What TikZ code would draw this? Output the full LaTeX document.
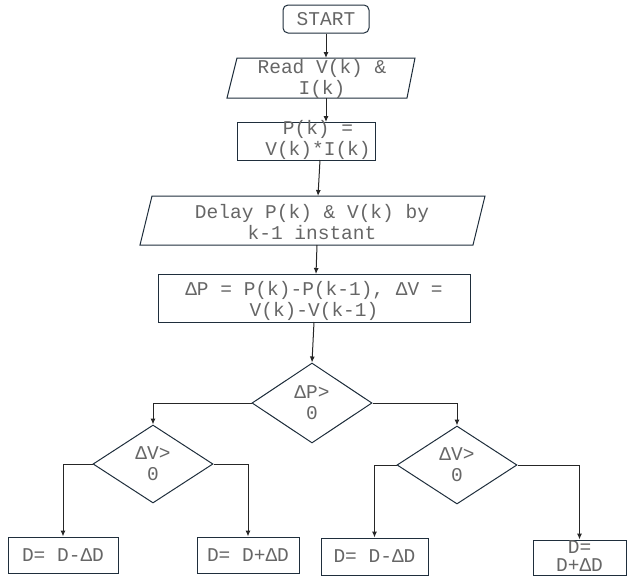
\documentclass[tikz,border=0pt]{standalone}
\usepackage{fontspec}
\setmonofont{Liberation Mono}
\usetikzlibrary{shapes.geometric,arrows.meta}
\definecolor{edgecol}{HTML}{1F2E3C}
\definecolor{txtcol}{HTML}{666666}
\begin{document}
\begin{tikzpicture}[x=1pt,y=-1pt,
  lbl/.style={text=txtcol, font=\ttfamily\fontsize{19.5}{21}\selectfont, align=center, inner sep=0pt},
  shp/.style={lbl, draw=edgecol, line width=1pt},
  boxnode/.style={shp, rectangle},
  decide/.style={shp, diamond, minimum width=120pt, minimum height=80pt},
  para/.style={draw=edgecol, line width=1pt},
  arr/.style={draw=black!85, line width=1pt, -{Latex[length=6pt,width=5pt]}}
]
\useasboundingbox (0,0) rectangle (627,576);

% START
\node[boxnode, rounded corners=5pt, minimum width=86pt, minimum height=28pt] (start) at (326,19) {START};

% Read parallelogram
\draw[para] (237,58) -- (415,58) -- (407,98) -- (227,98) -- cycle;
\node[lbl] (read) at (322,79) {Read V(k) \&\\I(k)};
\coordinate (readT) at (326,58);
\coordinate (readB) at (326,98);

% P box
\node[boxnode, minimum width=138pt, minimum height=38pt] (pbox) at (306,141) {};
\node[lbl] (ptxt) at (318,140) {P(k) =\\V(k)*I(k)};
\coordinate (pT) at (326,122);
\coordinate (pB) at (320,160);

% Delay parallelogram
\draw[para] (152,196) -- (485,196) -- (473,245) -- (140,245) -- cycle;
\node[lbl] (delay) at (312,222) {Delay P(k) \& V(k) by\\k-1 instant};
\coordinate (delT) at (318,196);
\coordinate (delB) at (317,245);

% Delta box
\node[boxnode, minimum width=312pt, minimum height=48pt] (dbox) at (314,298) {};
\node[lbl] (dtxt) at (314,301) {ΔP = P(k)-P(k-1), ΔV =\\V(k)-V(k-1)};
\coordinate (dT) at (316,274);
\coordinate (dB) at (314,322);

% decisions
\node[decide] (d0) at (312,403) {ΔP>\\0};
\node[decide, minimum height=78pt] (d1) at (153,464) {ΔV>\\0};
\node[decide, minimum height=78pt] (d2) at (457,465) {ΔV>\\0};

% outputs
\node[boxnode, minimum width=110pt, minimum height=36pt] (b1) at (63,555) {D= D-ΔD};
\node[boxnode, minimum width=102pt, minimum height=36pt] (b2) at (248,555) {D= D+ΔD};
\node[boxnode, minimum width=107pt, minimum height=37pt] (b3) at (374.5,556.5) {D= D-ΔD};
\node[boxnode, minimum width=93pt, minimum height=35pt] (b4) at (579.5,557.5) {};
\node[lbl, font=\ttfamily\fontsize{19.5}{18.5}\selectfont] (b4txt) at (579.5,556) {D=\\D+ΔD};

% connectors
\draw[arr] (start.south) -- (readT);
\draw[arr] (readB) -- (pT);
\draw[arr] (pB) -- (delT);
\draw[arr] (delB) -- (dT);
\draw[arr] (dB) -- (d0.north);
\draw[arr] (d0.west) -| (d1.north);
\draw[arr] (d0.east) -| (d2.north);
\draw[arr] (d1.west) -| (b1.north);
\draw[arr] (d1.east) -| (b2.north);
\draw[arr] (d2.west) -| (b3.north);
\draw[arr] (d2.east) -| (b4.north);
\end{tikzpicture}
\end{document}
